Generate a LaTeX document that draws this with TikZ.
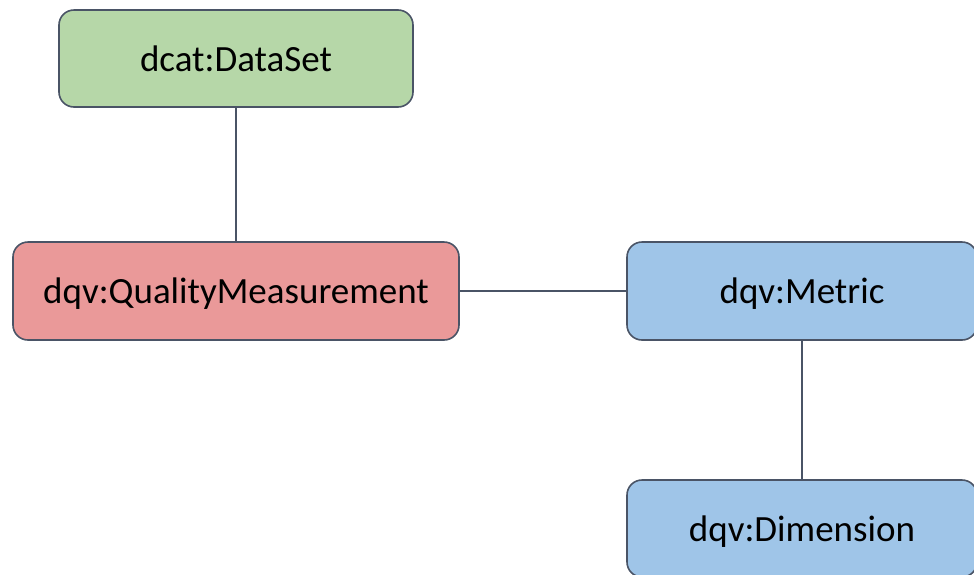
\documentclass[tikz,border=0pt]{standalone}
\usepackage{fontspec}
\setmainfont{Carlito}
\usetikzlibrary{positioning}
\definecolor{mgreen}{HTML}{B6D7A8}
\definecolor{mred}{HTML}{EA9999}
\definecolor{mblue}{HTML}{9FC5E8}
\definecolor{mgray}{HTML}{4A5466}
\tikzset{box/.style = {draw = mgray, line width = 1.6pt, rounded corners = 15pt,
    inner sep = 0, text depth = 0pt, font = \fontsize{37}{44}\selectfont},
  conn/.style = {draw = mgray, line width = 1.6pt}}

\begin{document}
\begin{tikzpicture}[x = 1pt, y = -1pt]
      \useasboundingbox (0, 0) rectangle (974, 574);

      \node [box, fill = mgreen, minimum width = 354pt, minimum height = 97pt] (dataset) at (236, 58.5) {dcat:DataSet};
      \node [box, fill = mred, minimum width = 446pt, minimum height = 98pt] (measure) at (236, 291) {dqv:QualityMeasurement};
      \node [box, fill = mblue, minimum width = 350pt, minimum height = 98pt] (metric) at (802, 291) {dqv:Metric};
      \node [box, fill = mblue, minimum width = 350pt, minimum height = 97pt] (dimension) at (802, 528.5) {dqv:Dimension};

      \draw [conn] (dataset) -- (measure);
      \draw [conn] (measure) -- (metric);
      \draw [conn] (metric) -- (dimension);
    \end{tikzpicture}
\end{document}
